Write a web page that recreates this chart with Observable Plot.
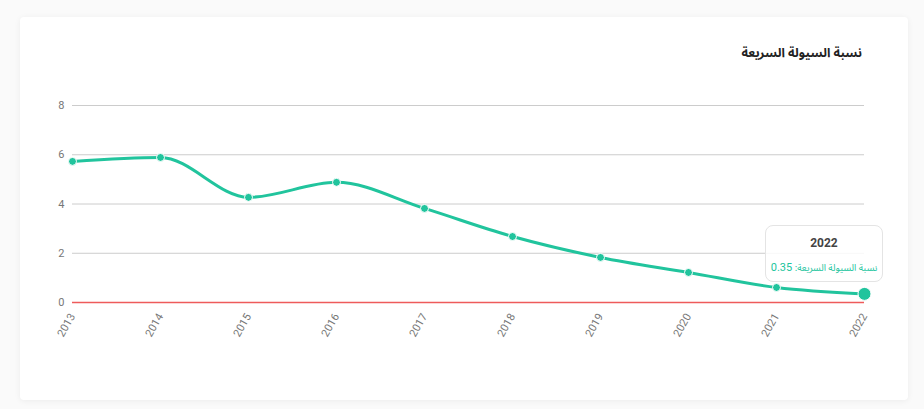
<!DOCTYPE html>
<html>
<head>
<meta charset="utf-8">
<script src="https://cdn.jsdelivr.net/npm/d3@7"></script>
<script src="https://cdn.jsdelivr.net/npm/@observablehq/plot@0.6"></script>
<style>
  html, body { margin: 0; padding: 0; background: #fafafa; width: 924px; height: 409px; overflow: hidden; }
  #card { position: absolute; left: 20px; top: 17px; width: 888px; height: 383px; background: #fff;
          border-radius: 4px; box-shadow: 0 1px 6px rgba(0,0,0,0.06); }
  #title { position: absolute; right: 62px; top: 40px; font-family: "Noto Sans Arabic", "DejaVu Sans", sans-serif;
           font-weight: bold; font-size: 12.5px; color: #222; direction: rtl; }
  #chart { position: absolute; left: 0; top: 0; }
  #tip { position: absolute; width: 118px; height: 57px; background: rgba(255,255,255,0.85);
         border: 1.5px solid #e4e4e4; border-radius: 8px; box-sizing: border-box; text-align: center; }
  #tip .yr { font-family: Roboto, sans-serif; font-weight: bold; font-size: 12px; color: #444; margin-top: 10px; }
  #tip .val { font-family: "Noto Sans Arabic", "DejaVu Sans", sans-serif; font-size: 9.5px; color: #21c49d; direction: rtl; margin-top: 8px; white-space: nowrap; }
  #tip .val .num { font-family: Roboto, sans-serif; font-size: 11px; }
</style>
</head>
<body>
<div id="card"></div>
<div id="chart"></div>
<div id="title">نسبة السيولة السريعة</div>
<div id="tip"><div class="yr"></div><div class="val"><span class="lbl"></span> <span class="num"></span></div></div>
<script>
const years = ["2013","2014","2015","2016","2017","2018","2019","2020","2021","2022"];
const values = [5.73, 5.89, 4.27, 4.88, 3.82, 2.68, 1.83, 1.22, 0.61, 0.35];
const yTicks = [0, 2, 4, 6, 8];
const seriesName = "نسبة السيولة السريعة";
const highlightIndex = 9;

const data = years.map((y, i) => ({year: y, value: values[i]}));
const color = "#21c49d";

const chart = Plot.plot({
  width: 924,
  height: 409,
  marginLeft: 72,
  marginRight: 60,
  marginTop: 105,
  marginBottom: 107,
  style: {fontFamily: "Roboto, sans-serif", fontSize: "11px", color: "#777", background: "transparent"},
  x: {type: "point", domain: years, padding: 0, label: null},
  y: {domain: [0, 8], ticks: yTicks, label: null},
  marks: [
    Plot.gridY(yTicks.filter(d => d !== 0), {stroke: "#cccccc", strokeOpacity: 1, strokeWidth: 1}),
    Plot.ruleY([0], {stroke: "#ee5b5b", strokeWidth: 1.5}),
    Plot.axisY({ticks: yTicks, tickSize: 0, tickPadding: 8, fill: "#777"}),
    Plot.axisX({tickSize: 0, tickPadding: 12, tickRotate: -60, fill: "#777"}),
    Plot.line(data, {x: "year", y: "value", stroke: color, strokeWidth: 3, curve: "monotone-x"}),
    Plot.dot(data, {x: "year", y: "value", r: 4, fill: color, stroke: "#fff", strokeWidth: 1}),
    Plot.dot([data[highlightIndex]], {x: "year", y: "value", r: 6.5, fill: color, stroke: "#fff", strokeWidth: 1})
  ]
});
document.getElementById("chart").appendChild(chart);

const px = chart.scale("x").apply(years[highlightIndex]);
const py = chart.scale("y").apply(values[highlightIndex]);
const tip = document.getElementById("tip");
tip.style.left = (px - 99) + "px";
tip.style.top = (py - 68) + "px";
tip.querySelector(".yr").textContent = years[highlightIndex];
tip.querySelector(".lbl").textContent = seriesName + ":";
tip.querySelector(".num").textContent = values[highlightIndex];
</script>
</body>
</html>
